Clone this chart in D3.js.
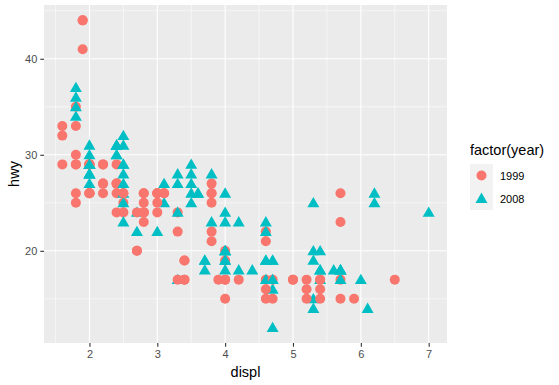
<!DOCTYPE html>
<html>
<head>
<meta charset="utf-8">
<script src="https://cdn.jsdelivr.net/npm/d3@7"></script>
<style>
  body { margin: 0; background: #fff; }
  text { font-family: "Liberation Sans", Arial, sans-serif; }
</style>
</head>
<body>
<script>
// points in drawing order (later ones sit on top), grouped by maker
var displ = [
  1.8,2.0,2.0,2.8,3.1,1.8,1.8,2.0,2.0,2.8,3.1,2.8,4.2,                     // audi
  5.3,5.3,5.7,6.0,5.7,5.7,6.2,6.2,7.0,5.3,5.3,5.7,6.5,2.4,2.4,3.1,3.5,3.6, // chevrolet
  2.4,3.0,3.3,3.3,3.3,3.3,3.8,3.8,3.8,4.0,3.7,3.7,3.9,4.7,4.7,5.2,4.7,5.2,5.7,5.9,4.7,5.2,5.7, // dodge
  4.6,5.4,5.4,4.0,4.0,4.0,4.6,5.0,4.2,4.6,4.6,5.4,5.4,3.8,3.8,4.0,4.0,4.6,4.6,4.6,4.6,5.4, // ford
  1.6,1.6,1.6,1.8,1.8,2.0,                                                 // honda
  2.4,2.4,2.4,2.4,2.5,3.3,2.0,2.0,2.0,2.0,2.7,2.7,                         // hyundai
  3.0,3.7,4.0,4.7,4.7,5.7,6.1,                                             // jeep
  4.0,4.2,4.4,4.6,                                                         // land rover
  5.4,5.4,5.4,                                                             // lincoln
  4.0,4.0,4.6,5.0,                                                         // mercury
  2.4,2.4,2.5,2.5,3.5,3.5,3.0,3.0,3.5,3.3,4.0,5.6,                         // nissan
  3.1,3.8,3.8,3.8,5.3,                                                     // pontiac
  2.5,2.5,2.5,2.5,2.5,2.5,2.2,2.5,                                         // subaru
  2.7,3.4,3.4,4.0,4.7, 2.2,2.2,2.4,3.0,3.5, 2.2,2.2,2.4,3.0,3.3,
  1.8,1.8,1.8,1.8,1.8, 4.7,5.7, 2.7,2.7,3.4,3.4,4.0,4.0,                   // toyota
  2.0,2.0,2.0,2.8, 1.9,2.0,2.0,2.0,2.5,2.8,2.8, 1.9,1.9,2.0,2.0,2.5,2.5,
  1.8,2.0,2.0,2.8,3.6                                                      // volkswagen
];
var hwy = [
  29,31,30,26,27,26,25,28,27,25,25,24,23,
  20,15,17,17,26,23,26,25,24,19,14,15,17,27,30,26,29,26,
  24,24,22,24,24,17,22,21,23,23,19,18,17,19,12,17,17,16,18,15,16,15,17,
  17,17,18,17,19,19,19,17,17,16,17,15,17,26,25,26,24,21,22,23,22,20,
  33,32,29,34,36,29,
  26,27,30,31,26,28,26,29,28,29,24,24,
  22,19,20,17,19,18,14,
  15,18,18,15,
  17,16,18,
  17,19,19,17,
  29,27,31,32,27,26,26,25,25,17,20,18,
  26,26,27,28,25,
  25,24,27,25,26,23,26,26,
  20,19,17,20,17, 29,27,31,26,28, 27,29,31,26,27,
  30,33,35,37,35, 15,18, 20,22,17,19,18,20,
  29,26,29,24, 44,29,26,29,29,23,24, 44,41,29,26,28,29,
  29,29,28,26,26
];
var year = [
  1999,2008,2008,1999,2008,1999,1999,2008,2008,1999,2008,1999,2008,
  2008,2008,1999,2008,1999,1999,2008,2008,2008,2008,2008,1999,1999,1999,2008,1999,2008,2008,
  1999,1999,1999,1999,2008,2008,1999,1999,2008,2008,2008,2008,1999,2008,2008,1999,2008,1999,2008,1999,2008,1999,2008,
  1999,1999,2008,1999,1999,2008,2008,1999,1999,1999,2008,1999,2008,1999,1999,2008,2008,1999,1999,2008,2008,2008,
  1999,1999,1999,2008,2008,2008,
  1999,1999,2008,2008,1999,2008,1999,1999,2008,2008,2008,1999,
  2008,2008,1999,1999,2008,2008,2008,
  1999,2008,2008,1999,
  1999,1999,2008,
  1999,2008,2008,1999,
  1999,1999,2008,2008,2008,2008,1999,1999,2008,1999,2008,2008,
  1999,1999,1999,2008,2008,
  1999,1999,2008,2008,2008,2008,1999,1999,
  1999,1999,1999,2008,2008, 1999,1999,2008,1999,2008, 1999,1999,2008,1999,2008,
  1999,1999,1999,2008,2008, 1999,2008, 1999,2008,1999,1999,2008,2008,
  1999,1999,2008,1999, 1999,1999,1999,2008,2008,1999,1999, 1999,1999,1999,1999,2008,2008,
  1999,2008,2008,1999,2008
];

var years = [1999, 2008];
var colors = ['#F8766D', '#00BFC4'];
var xTicks = [2, 3, 4, 5, 6, 7],
    yTicks = [20, 30, 40];

var width = 559,
    height = 385;

var svg = d3.select('body')
  .append('svg')
    .attr('width', width)
    .attr('height', height);

var pLeft = 44, pRight = 447, pTop = 5, pBottom = 343;

var x = d3.scaleLinear()
    .domain([1.6 - 0.27, 7.0 + 0.27])
    .range([pLeft, pRight]);

var y = d3.scaleLinear()
    .domain([12 - 1.6, 44 + 1.6])
    .range([pBottom, pTop]);

var color = d3.scaleOrdinal().domain(years).range(colors);

// panel
svg.append('rect')
    .attr('x', pLeft)
    .attr('y', pTop)
    .attr('width', pRight - pLeft)
    .attr('height', pBottom - pTop)
    .attr('fill', '#EBEBEB');

// minor grid
svg.selectAll('.xminor')
    .data([1.5, 2.5, 3.5, 4.5, 5.5, 6.5]).enter()
  .append('line')
    .attr('x1', function(d){ return x(d); })
    .attr('x2', function(d){ return x(d); })
    .attr('y1', pTop)
    .attr('y2', pBottom)
    .attr('stroke', '#fff')
    .attr('stroke-width', 0.55);

svg.selectAll('.yminor')
    .data([15, 25, 35, 45]).enter()
  .append('line')
    .attr('x1', pLeft)
    .attr('x2', pRight)
    .attr('y1', function(d){ return y(d); })
    .attr('y2', function(d){ return y(d); })
    .attr('stroke', '#fff')
    .attr('stroke-width', 0.55);

// major grid
svg.selectAll('.xmajor')
    .data(xTicks).enter()
  .append('line')
    .attr('x1', function(d){ return x(d); })
    .attr('x2', function(d){ return x(d); })
    .attr('y1', pTop)
    .attr('y2', pBottom)
    .attr('stroke', '#fff')
    .attr('stroke-width', 1.1);

svg.selectAll('.ymajor')
    .data(yTicks).enter()
  .append('line')
    .attr('x1', pLeft)
    .attr('x2', pRight)
    .attr('y1', function(d){ return y(d); })
    .attr('y2', function(d){ return y(d); })
    .attr('stroke', '#fff')
    .attr('stroke-width', 1.1);

// axes
var xAxis = svg.append('g')
    .attr('transform', 'translate(0,' + pBottom + ')')
    .call(d3.axisBottom(x).tickValues(xTicks).tickFormat(d3.format('d')).tickSize(3.7).tickPadding(3));

var yAxis = svg.append('g')
    .attr('transform', 'translate(' + pLeft + ',0)')
    .call(d3.axisLeft(y).tickValues(yTicks).tickFormat(d3.format('d')).tickSize(3.7).tickPadding(3));

[xAxis, yAxis].forEach(function(g){
  g.select('.domain').remove();
  g.selectAll('line').attr('stroke', '#333').attr('stroke-width', 1.1);
  g.selectAll('text')
    .attr('fill', '#4D4D4D')
    .style('font-size', '11px')
    .style('font-family', '"Liberation Sans", Arial, sans-serif');
});

svg.append('text')
    .attr('x', (pLeft + pRight) / 2)
    .attr('y', 377)
    .attr('text-anchor', 'middle')
    .style('font-size', '14.5px')
    .text('displ');

svg.append('text')
    .attr('transform', 'translate(19,' + (pTop + pBottom) / 2 + ') rotate(-90)')
    .attr('text-anchor', 'middle')
    .style('font-size', '14.5px')
    .text('hwy');

// points: circle for 1999, triangle for 2008, in row order
var tri = d3.symbol().type(d3.symbolTriangle).size(62),
    dot = d3.symbol().type(d3.symbolCircle).size(Math.PI * 25);

svg.selectAll('path.pt')
    .data(d3.range(displ.length)).enter()
  .append('path')
    .attr('class', 'pt')
    .attr('d', function(i){ return year[i] === 1999 ? dot() : tri(); })
    .attr('transform', function(i){
      var dy = year[i] === 1999 ? 0 : 1;
      return 'translate(' + x(displ[i]) + ',' + (y(hwy[i]) + dy) + ')';
    })
    .attr('fill', function(i){ return color(year[i]); });

// legend
var lg = svg.append('g');

lg.append('text')
    .attr('x', 470)
    .attr('y', 155)
    .style('font-size', '14.5px')
    .text('factor(year)');

var keys = lg.selectAll('g.key')
    .data(years).enter()
  .append('g')
    .attr('transform', function(d, i){ return 'translate(470,' + (164 + i * 23) + ')'; });

keys.append('rect')
    .attr('width', 23)
    .attr('height', 23)
    .attr('fill', '#F2F2F2');

keys.append('path')
    .attr('d', function(d){ return d === 1999 ? dot() : tri(); })
    .attr('transform', function(d){ return 'translate(11.5,' + (d === 1999 ? 11.5 : 12.5) + ')'; })
    .attr('fill', function(d){ return color(d); });

keys.append('text')
    .attr('x', 30)
    .attr('y', 15.5)
    .attr('fill', '#000')
    .style('font-size', '11px')
    .text(function(d){ return d; });
</script>
</body>
</html>
